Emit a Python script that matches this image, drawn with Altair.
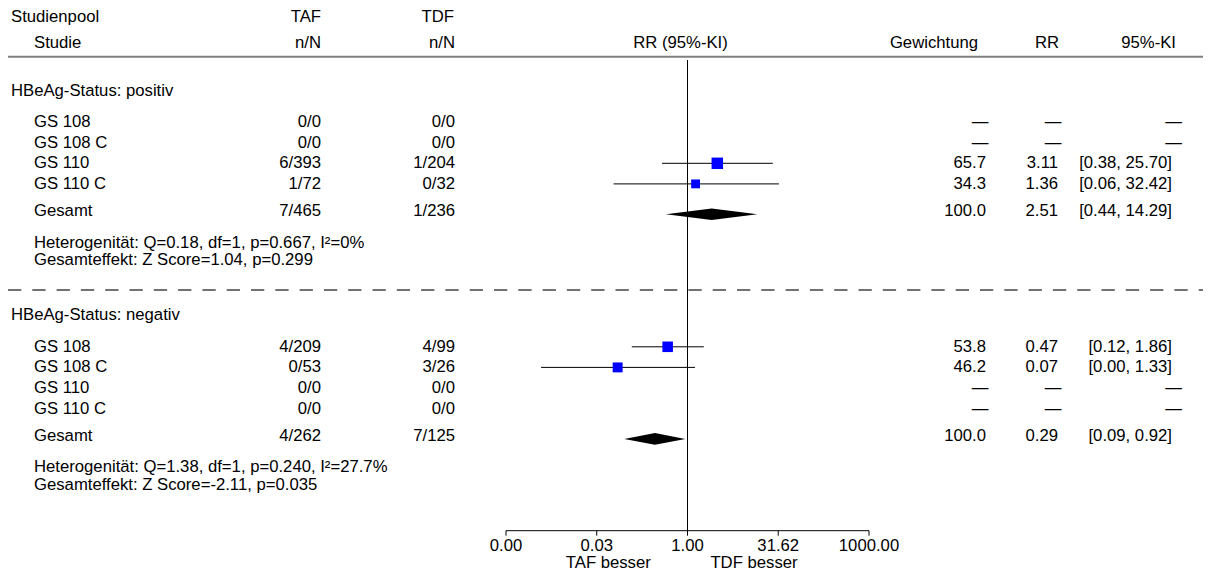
import altair as alt
import pandas as pd

# ---------------- data ----------------
groups = ["HBeAg-Status: positiv", "HBeAg-Status: negativ"]
studies = ["GS 108", "GS 108 C", "GS 110", "GS 110 C"]

taf_n = [["0/0", "0/0", "6/393", "1/72"], ["4/209", "0/53", "0/0", "0/0"]]
tdf_n = [["0/0", "0/0", "1/204", "0/32"], ["4/99", "3/26", "0/0", "0/0"]]
weights = [[None, None, 65.7, 34.3], [53.8, 46.2, None, None]]
rr_vals = [[None, None, 3.11, 1.36], [0.47, 0.07, None, None]]
ci_low = [[None, None, 0.38, 0.06], [0.12, 0.0038, None, None]]
ci_high = [[None, None, 25.70, 32.42], [1.86, 1.33, None, None]]

total_taf = ["7/465", "4/262"]
total_tdf = ["1/236", "7/125"]
total_w = [100.0, 100.0]
total_rr = [2.51, 0.29]
total_lo = [0.44, 0.09]
total_hi = [14.29, 0.92]

het_text = ["Heterogenität: Q=0.18, df=1, p=0.667, I²=0%",
            "Heterogenität: Q=1.38, df=1, p=0.240, I²=27.7%"]
eff_text = ["Gesamteffekt: Z Score=1.04, p=0.299",
            "Gesamteffekt: Z Score=-2.11, p=0.035"]

header_top = ["Studienpool", "TAF", "TDF"]
header_bottom = ["Studie", "n/N", "n/N", "RR (95%-KI)", "Gewichtung", "RR", "95%-KI"]
tick_values = [0.001, 0.0316, 1.0, 31.62, 1000.0]
favours = ["TAF besser", "TDF besser"]

# ---------------- layout ----------------
W, H = 1195, 564
FONT = "Liberation Sans"
FS = 16.7
ROW = 20.6
Y_HEAD1, Y_HEAD2, Y_HLINE = 8.5, 34.5, 48.7
Y_FIRST_TITLE = 82.5
TITLE_TO_STUDY = 31.6
STUDY_TO_TOTAL = 30.3
TOTAL_TO_HET = 28.3
HET_TO_EFF = 17.7
EFF_TO_DASH = 29.7
DASH_TO_TITLE = 25.3
AXIS_Y = 522.7
VLINE_TOP = 52
DIAMOND_H = 5.8

XS = alt.Scale(type="log", domain=[0.001, 1000], range=[498, 861], nice=False)
YS = alt.Scale(domain=[0, H], range=[0, H], nice=False, zero=False)


def fmt(v, f):
    return None if v is None else format(v, f)


rows = []
y = Y_FIRST_TITLE
for g in range(2):
    rows.append(dict(kind="title", label=groups[g], y=y, ty=y))
    y += TITLE_TO_STUDY
    for i, s in enumerate(studies):
        rows.append(dict(kind="study", label=s, y=y, ty=y,
                         taf=taf_n[g][i], tdf=tdf_n[g][i],
                         wt=fmt(weights[g][i], ".1f"), rrt=fmt(rr_vals[g][i], ".2f"),
                         ki=None if ci_low[g][i] is None else
                         f"[{ci_low[g][i]:.2f}, {ci_high[g][i]:.2f}]",
                         w=weights[g][i], rr=rr_vals[g][i],
                         lo=ci_low[g][i], hi=ci_high[g][i]))
        y += ROW
    y += STUDY_TO_TOTAL - ROW
    rows.append(dict(kind="total", label="Gesamt", y=y, ty=y - 3,
                     taf=total_taf[g], tdf=total_tdf[g],
                     wt=fmt(total_w[g], ".1f"), rrt=fmt(total_rr[g], ".2f"),
                     ki=f"[{total_lo[g]:.2f}, {total_hi[g]:.2f}]"))
    y += TOTAL_TO_HET
    rows.append(dict(kind="note", label=het_text[g], y=y, ty=y))
    y += HET_TO_EFF
    rows.append(dict(kind="note", label=eff_text[g], y=y, ty=y))
    if g == 0:
        y += EFF_TO_DASH
        dash_y = y
        y += DASH_TO_TITLE

df = pd.DataFrame(rows)
titles = df[df.kind == "title"]
labels = df[df.kind != "title"]
nums = df[df.kind.isin(["study", "total"])]
vals = nums[nums.wt.notna()]
missing = nums[nums.wt.isna()].assign(d="—")
ci = df[(df.kind == "study") & df.lo.notna()]

# diamonds
dia = []
yt = df[df.kind == "total"].y.tolist()
for g in range(2):
    c = yt[g]
    dia += [dict(g=g, x=total_lo[g], y=c, y2=c),
            dict(g=g, x=total_rr[g], y=c - DIAMOND_H, y2=c + DIAMOND_H),
            dict(g=g, x=total_hi[g], y=c, y2=c)]
dia = pd.DataFrame(dia)


def txt(data, field, x, align, yfield="ty"):
    return alt.Chart(data).mark_text(
        align=align, baseline="middle", font=FONT, fontSize=FS, color="black"
    ).encode(x=alt.value(x), y=alt.Y(f"{yfield}:Q", scale=YS, axis=None),
             text=f"{field}:N")


head1 = pd.DataFrame(dict(t=header_top, ty=[Y_HEAD1] * 3))
head2 = pd.DataFrame(dict(t=header_bottom, ty=[Y_HEAD2] * 7))

layers = []
# header
layers += [
    txt(head1.iloc[[0]], "t", 3, "left"),
    txt(head1.iloc[[1]], "t", 313, "right"),
    txt(head1.iloc[[2]], "t", 446, "right"),
    txt(head2.iloc[[0]], "t", 26, "left"),
    txt(head2.iloc[[1]], "t", 313, "right"),
    txt(head2.iloc[[2]], "t", 447, "right"),
    txt(head2.iloc[[3]], "t", 672.5, "center"),
    txt(head2.iloc[[4]], "t", 970, "right"),
    txt(head2.iloc[[5]], "t", 1051, "right"),
    txt(head2.iloc[[6]], "t", 1168, "right"),
]
hl = pd.DataFrame(dict(y=[Y_HLINE]))
layers.append(alt.Chart(hl).mark_rule(color="#808080", strokeWidth=2).encode(
    x=alt.value(0), x2=alt.value(W), y=alt.Y("y:Q", scale=YS, axis=None)))
dl = pd.DataFrame(dict(y=[dash_y]))
layers.append(alt.Chart(dl).mark_rule(color="#444444", strokeWidth=1.5,
                                       strokeDash=[13.3, 11]).encode(
    x=alt.value(0), x2=alt.value(W), y=alt.Y("y:Q", scale=YS, axis=None)))

# body text
layers += [
    txt(titles, "label", 3, "left"),
    txt(labels, "label", 26, "left"),
    txt(nums, "taf", 313, "right"),
    txt(nums, "tdf", 447, "right"),
    txt(vals, "wt", 978, "right"),
    txt(vals, "rrt", 1050, "right"),
    txt(vals, "ki", 1164, "right"),
    txt(missing, "d", 972, "center"),
    txt(missing, "d", 1045, "center"),
    txt(missing, "d", 1165.5, "center"),
]

# reference line
vl = pd.DataFrame(dict(v=[1.0], y1=[VLINE_TOP], y2=[AXIS_Y]))
layers.append(alt.Chart(vl).mark_rule(color="black", strokeWidth=1).encode(
    x=alt.X("v:Q", scale=XS, axis=None),
    y=alt.Y("y1:Q", scale=YS, axis=None), y2="y2:Q"))

# CI lines and squares
layers.append(alt.Chart(ci).mark_rule(color="black", strokeWidth=1).encode(
    x=alt.X("lo:Q", scale=XS, axis=None), x2="hi:Q",
    y=alt.Y("y:Q", scale=YS, axis=None)))
layers.append(alt.Chart(ci).mark_square(color="#0000ff", opacity=1, filled=True).encode(
    x=alt.X("rr:Q", scale=XS, axis=None),
    y=alt.Y("y:Q", scale=YS, axis=None),
    size=alt.Size("w:Q", scale=alt.Scale(domain=[0, 100], range=[20, 190]), legend=None)))

# diamonds
layers.append(alt.Chart(dia).mark_area(color="black", orient="vertical", opacity=1).encode(
    x=alt.X("x:Q", scale=XS, axis=None),
    y=alt.Y("y:Q", scale=YS, axis=None), y2="y2:Q", detail="g:N"))

# axis
ax = pd.DataFrame(dict(a=[tick_values[0]], b=[tick_values[-1]], y=[AXIS_Y]))
layers.append(alt.Chart(ax).mark_rule(color="black", strokeWidth=1).encode(
    x=alt.X("a:Q", scale=XS, axis=None), x2="b:Q",
    y=alt.Y("y:Q", scale=YS, axis=None)))
tk = pd.DataFrame(dict(t=tick_values, y=[AXIS_Y] * 5, y2=[AXIS_Y + 5] * 5,
                       ty=[AXIS_Y + 15.5] * 5,
                       lab=[format(v, ".2f") for v in tick_values]))
layers.append(alt.Chart(tk).mark_rule(color="black", strokeWidth=1).encode(
    x=alt.X("t:Q", scale=XS, axis=None),
    y=alt.Y("y:Q", scale=YS, axis=None), y2="y2:Q"))
layers.append(alt.Chart(tk).mark_text(align="center", baseline="middle", font=FONT,
                                      fontSize=FS, color="black").encode(
    x=alt.X("t:Q", scale=XS, axis=None),
    y=alt.Y("ty:Q", scale=YS, axis=None), text="lab:N"))
fv = pd.DataFrame(dict(t=favours, ty=[AXIS_Y + 32.6] * 2))
layers += [txt(fv.iloc[[0]], "t", 600.3, "center"),
           txt(fv.iloc[[1]], "t", 746, "center")]

chart = alt.layer(*layers).properties(
    width=W, height=H, autosize="none", padding=0
).configure_view(stroke=None)

chart.save("out.html", embed_options={"renderer": "svg", "actions": False})
